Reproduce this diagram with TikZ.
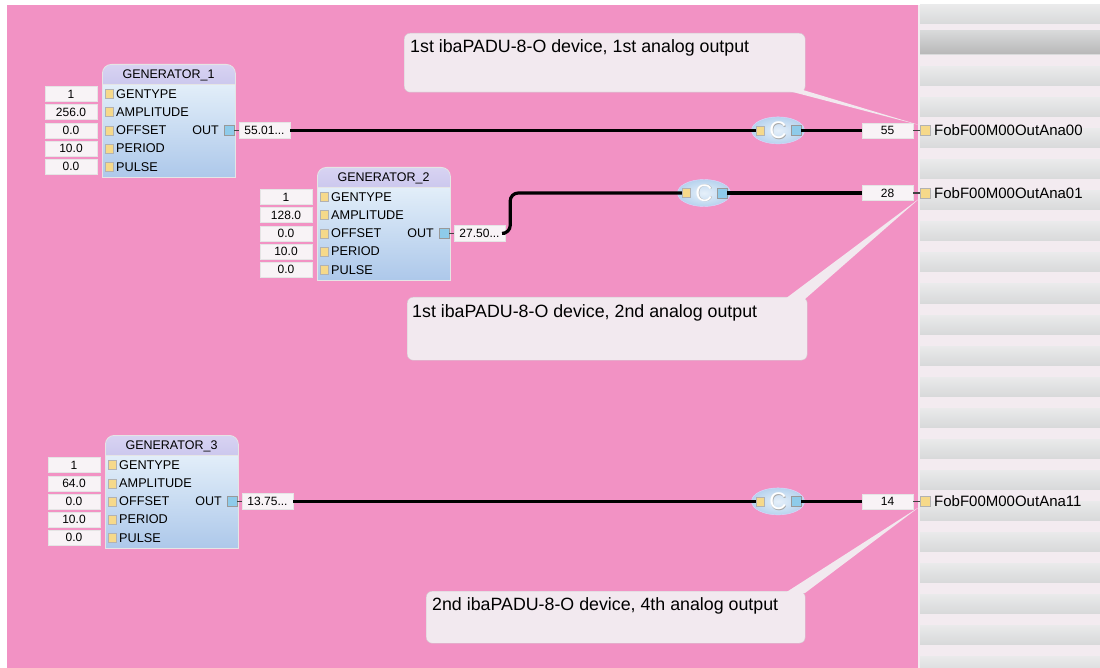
\documentclass[tikz,border=0pt]{standalone}
\usepackage{fontspec}
\setmainfont{Liberation Sans}
\usetikzlibrary{shapes.geometric}
\definecolor{bgpink}{HTML}{F292C4}
\definecolor{callfill}{HTML}{F2E9EF}
\definecolor{calldraw}{HTML}{D2C8CF}
\definecolor{panlight}{HTML}{F3EBF0}
\definecolor{pangrey}{HTML}{D8D9DA}
\definecolor{bodytop}{HTML}{E2EEF9}
\definecolor{bodybot}{HTML}{ADC8EA}
\definecolor{titletop}{HTML}{D8D3F2}
\definecolor{titlebot}{HTML}{C2BFEA}
\definecolor{pinyel}{HTML}{F6D98A}
\definecolor{pinblue}{HTML}{8ECBEA}
\definecolor{boxfill}{HTML}{F8F3F6}
\definecolor{convin}{HTML}{E6F0FA}
\definecolor{convout}{HTML}{B7D3EE}
\newcommand\myfs[1]{\fontsize{#1}{#1}\selectfont}
\tikzset{
  gentitle/.style={rounded corners=9, top color=titletop, bottom color=titlebot, draw=white!80!gray, line width=0.8, minimum width=133, minimum height=36, inner sep=0},
  genbody/.style={top color=bodytop, bottom color=bodybot, draw=white!80!gray, line width=0.8, minimum width=133, minimum height=93, inner sep=0},
  inbox/.style={fill=boxfill, draw=black!10, minimum width=52, minimum height=15, inner sep=0, font=\myfs{12}},
  outbox/.style={fill=boxfill, draw=black!10, minimum width=51, minimum height=16, inner sep=0, font=\myfs{12}},
  valbox/.style={fill=boxfill, draw=black!10, minimum width=51, minimum height=15, inner sep=0, font=\myfs{12}},
  pinY/.style={fill=pinyel, draw=black!30, minimum width=8, minimum height=9, inner sep=0},
  pinB/.style={fill=pinblue, draw=black!40, minimum width=10, minimum height=10, inner sep=0},
  wire/.style={line width=3.2, black},
  thinlink/.style={line width=1.2, black!75},
  conv/.style={ellipse, minimum width=53, minimum height=27, inner sep=0, inner color=convin, outer color=convout, draw=white!85!blue},
  callout/.style={fill=callfill, draw=calldraw, rounded corners=6, inner sep=0},
  pointer/.style={fill=callfill},
  lbl/.style={anchor=west, inner sep=0, font=\myfs{12.7}},
  calltext/.style={anchor=west, inner sep=0, font=\myfs{17.8}},
  fobtext/.style={anchor=west, inner sep=0, font=\myfs{15}}
}
\newcommand\mygen[6]{%
  \node[gentitle, anchor=north west] (#1t) at (#2,#3) {};
  \node[genbody, anchor=north west] (#1) at (#2,#3+20) {};
  \node[inner sep=0, font=\myfs{12.5}] (#1name) at (#2+66.5,#3+11) {#4};
  \foreach \v/\l [count=\i from 0] in {#5} {
    \node[inbox] (#1in\i) at (#2-31,#3+30+18.2*\i) {\v};
    \node[pinY] (#1pin\i) at (#2+7,#3+30+18.2*\i) {};
    \node[lbl] (#1lab\i) at (#2+14,#3+30+18.2*\i) {\l};
  }
  \node[anchor=east, inner sep=0, font=\myfs{12.5}] (#1outl) at (#2+117,#3+66.4) {OUT};
  \node[pinB] (#1out) at (#2+127,#3+66.4) {};
  \node[outbox] (#1val) at (#2+162.5,#3+66.4) {#6};
  \draw[thinlink] (#1out.east) -- (#1val.west);
}
\newcommand\myconv[3]{%
  \node[conv] (#1) at (#2,#3) {};
  \node[inner sep=0, font=\myfs{24}, text=black!35] at (#2+0.6,#3+0.6) {C};
  \node[inner sep=0, font=\myfs{24}, text=white] (#1c) at (#2,#3) {C};
  \node[pinY] (#1in) at (#2-18,#3) {};
  \node[pinB] (#1out) at (#2+18,#3) {};
}
\begin{document}
\begin{tikzpicture}[x=1pt,y=-1pt]
\useasboundingbox (0,0) rectangle (1100,668);
\fill[white] (0,0) rectangle (1100,668);
\fill[bgpink] (7,5) rectangle (918,668);
\fill[panlight] (918,5) rectangle (1100,668);
\foreach \k in {0,...,21} {
  \fill[top color=pangrey!55!white, bottom color=pangrey] (920,{5+31*\k}) rectangle (1100,{24+31*\k});
}
\fill[top color=pangrey, bottom color=black!28] (920,31) rectangle (1100,54);

% generators
\mygen{g1}{102}{64}{GENERATOR\_1}{1/GENTYPE,256.0/AMPLITUDE,0.0/OFFSET,10.0/PERIOD,0.0/PULSE}{55.01...}
\mygen{g2}{317}{167}{GENERATOR\_2}{1/GENTYPE,128.0/AMPLITUDE,0.0/OFFSET,10.0/PERIOD,0.0/PULSE}{27.50...}
\mygen{g3}{105}{435}{GENERATOR\_3}{1/GENTYPE,64.0/AMPLITUDE,0.0/OFFSET,10.0/PERIOD,0.0/PULSE}{13.75...}

% converters
\myconv{c1}{778}{130.4}
\myconv{c2}{704}{193}
\myconv{c3}{778}{501.4}

% output values and signals
\node[valbox] (o1) at (887.5,130.4) {55};
\node[valbox] (o2) at (887.5,193) {28};
\node[valbox] (o3) at (887.5,501.4) {14};
\node[pinY, minimum width=10, minimum height=10] (f1pin) at (925,130.4) {};
\node[pinY, minimum width=10, minimum height=10] (f2pin) at (925,193) {};
\node[pinY, minimum width=10, minimum height=10] (f3pin) at (925,501.4) {};
\node[fobtext] (f1) at (934,130.4) {FobF00M00OutAna00};
\node[fobtext] (f2) at (934,193) {FobF00M00OutAna01};
\node[fobtext] (f3) at (934,501.4) {FobF00M00OutAna11};

% wires
\draw[wire] (g1val.east) -- (c1in.west);
\draw[wire] (c1out.east) -- (o1.west);
\draw[wire, rounded corners=8] (g2val.east) -- ++(5,0) |- (c2in.west);
\draw[wire] (c2out.east) -- (o2.west);
\draw[wire] (g3val.east) -- (c3in.west);
\draw[wire] (c3out.east) -- (o3.west);
\draw[thinlink] (o1.east) -- (f1pin.west);
\draw[thinlink] (o2.east) -- (f2pin.west);
\draw[thinlink] (o3.east) -- (f3pin.west);

% callouts
\node[callout, anchor=north west, minimum width=401, minimum height=59] (n1) at (404,33) {};
\fill[pointer] (785,90) -- (803,90) -- (f1pin.north west) -- cycle;
\node[calltext] (n1t) at (410,48) {1st ibaPADU-8-O device, 1st analog output};

\node[callout, anchor=north west, minimum width=400, minimum height=63] (n2) at (407,297) {};
\fill[pointer] (785,299) -- (805,299) -- (f2pin.south west) -- cycle;
\node[calltext] (n2t) at (412,313) {1st ibaPADU-8-O device, 2nd analog output};

\node[callout, anchor=north west, minimum width=379, minimum height=52] (n3) at (426,591) {};
\fill[pointer] (785,593) -- (805,593) -- (f3pin.south west) -- cycle;
\node[calltext] (n3t) at (432,606) {2nd ibaPADU-8-O device, 4th analog output};
\end{tikzpicture}
\end{document}
